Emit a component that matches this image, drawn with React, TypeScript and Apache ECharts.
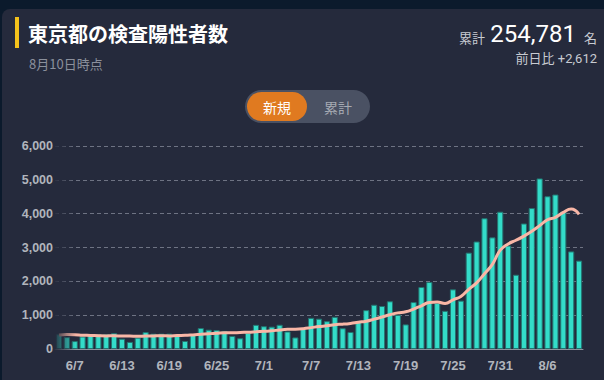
import React, { useEffect, useRef } from "react";
import * as echarts from "echarts";

const dates = [
  "6/5","6/6","6/7","6/8","6/9","6/10","6/11","6/12","6/13","6/14","6/15","6/16","6/17","6/18","6/19","6/20","6/21","6/22","6/23","6/24","6/25","6/26","6/27","6/28","6/29","6/30",
  "7/1","7/2","7/3","7/4","7/5","7/6","7/7","7/8","7/9","7/10","7/11","7/12","7/13","7/14","7/15","7/16","7/17","7/18","7/19","7/20","7/21","7/22","7/23","7/24","7/25","7/26","7/27","7/28","7/29","7/30","7/31",
  "8/1","8/2","8/3","8/4","8/5","8/6","8/7","8/8","8/9","8/10",
];

const newCases = [
  436, 351, 235, 369, 439, 440, 436, 467, 304, 209, 337, 501, 452, 453, 453, 388, 236, 435, 619, 570, 562, 534, 386, 317, 476, 714,
  673, 660, 716, 518, 342, 593, 920, 896, 822, 950, 614, 502, 830, 1149, 1308, 1271, 1410, 1008, 727, 1387, 1832, 1979, 1359, 1128, 1763, 1429, 2848, 3177, 3865, 3300, 4058,
  3058, 2195, 3709, 4166, 5042, 4515, 4566, 4066, 2884, 2612,
];

const avg7 = [
  416, 426, 423, 408, 401, 392, 387, 391, 384, 381, 376, 385, 387, 389, 387, 399, 403, 417, 434, 451, 466, 478, 477, 489, 495, 508,
  523, 537, 563, 582, 586, 602, 632, 664, 687, 720, 734, 757, 791, 823, 882, 946, 1012, 1068, 1100, 1180, 1278, 1373, 1386, 1346, 1454, 1554, 1763, 1955, 2224, 2501, 2920,
  3105, 3214, 3337, 3479, 3647, 3820, 3893, 4037, 4135, 3979,
];

const titleText = "東京都の検査陽性者数";
const asOfText = "8月10日時点";
const totalLabel = "累計";
const totalValue = "254,781";
const totalUnit = "名";
const diffText = "前日比 +2,612";
const toggleLabels = ["新規", "累計"];

const CJK = '"Noto Sans CJK JP", "Noto Sans", sans-serif';
const NUM = 'Roboto, "Noto Sans CJK JP", sans-serif';
const AX = '"Liberation Sans", Arial, sans-serif';
const BG = "#252a3c";

export default function App() {
  const ref = useRef<HTMLDivElement>(null);

  useEffect(() => {
    document.body.style.margin = "0";
    if (!ref.current) return;
    const chart = echarts.init(ref.current, null, { renderer: "svg", width: 604, height: 380 });
    chart.setOption({
      animation: false,
      backgroundColor: "transparent",
      grid: { left: 55, right: 21, top: 146, bottom: 31, containLabel: false },
      xAxis: {
        type: "category",
        data: dates,
        boundaryGap: true,
        axisLine: { show: true, lineStyle: { color: "#8d929c", width: 1 } },
        axisTick: { show: false },
        axisLabel: {
          interval: (i: number) => i >= 2 && (i - 2) % 6 === 0,
          color: "#b1b5bd",
          fontFamily: AX,
          fontWeight: "bold",
          fontSize: 13,
          margin: 10,
        },
        splitLine: { show: false },
      },
      yAxis: {
        type: "value",
        min: 0,
        max: 6000,
        interval: 1000,
        axisLine: { show: false },
        axisTick: { show: false },
        axisLabel: {
          color: "#b1b5bd",
          fontFamily: AX,
          fontWeight: "bold",
          fontSize: 12.5,
          margin: 2,
          formatter: (v: number) => String(v).replace(/\B(?=(\d{3})+(?!\d))/g, ","),
        },
        splitLine: { show: true, lineStyle: { color: "#6e7383", type: [4, 3], width: 1 } },
      },
      series: [
        {
          type: "bar",
          data: newCases,
          barCategoryGap: "22%",
          itemStyle: { color: "#33dcc9", borderColor: "#237470", borderWidth: 1 },
          z: 2,
        },
        {
          type: "line",
          data: avg7,
          smooth: true,
          symbol: "none",
          lineStyle: { color: "#f9b6a6", width: 3 },
          z: 3,
        },
      ],
      graphic: [
        { type: "rect", shape: { x: 54, y: 140, width: 22, height: 212 }, z: 10,
          style: { fill: new echarts.graphic.LinearGradient(0, 0, 1, 0, [
            { offset: 0, color: "rgba(37,42,60,0.95)" },
            { offset: 1, color: "rgba(37,42,60,0)" },
          ]) } },
        { type: "rect", shape: { x: 15, y: 17, width: 4, height: 31 }, style: { fill: "#f4c21b" } },
        { type: "text", style: { text: titleText, x: 28, y: 33, textVerticalAlign: "middle", fill: "#ffffff", font: `bold 20px ${CJK}` } },
        { type: "text", style: { text: asOfText, x: 29, y: 63, textVerticalAlign: "middle", fill: "#8b909c", font: `13px ${CJK}` } },
        { type: "text", style: { text: totalLabel, x: 485, y: 37, textAlign: "right", textVerticalAlign: "middle", fill: "#c8cbd2", font: `13px ${CJK}` } },
        { type: "text", style: { text: totalValue, x: 576, y: 34, textAlign: "right", textVerticalAlign: "middle", fill: "#ffffff", font: `24px ${NUM}` } },
        { type: "text", style: { text: totalUnit, x: 597, y: 37, textAlign: "right", textVerticalAlign: "middle", fill: "#c8cbd2", font: `13px ${CJK}` } },
        { type: "text", style: { text: diffText, x: 597, y: 58, textAlign: "right", textVerticalAlign: "middle", fill: "#c8cbd2", font: `13px ${NUM}` } },
        { type: "rect", shape: { x: 245, y: 90, width: 125, height: 33, r: 16.5 }, style: { fill: "#4a5163" } },
        { type: "rect", shape: { x: 247, y: 92, width: 60, height: 29, r: 14.5 }, style: { fill: "#e07a20" } },
        { type: "text", style: { text: toggleLabels[0], x: 277, y: 106.5, textAlign: "center", textVerticalAlign: "middle", fill: "#ffffff", font: `14px ${CJK}` } },
        { type: "text", style: { text: toggleLabels[1], x: 338, y: 106.5, textAlign: "center", textVerticalAlign: "middle", fill: "#a6aab3", font: `14px ${CJK}` } },
      ],
    });
    return () => chart.dispose();
  }, []);

  return (
    <div style={{ position: "relative", width: 604, height: 380, background: "#0b1a2c", overflow: "hidden" }}>
      <div style={{ position: "absolute", left: 2, top: 9, width: 620, height: 400, background: BG, borderRadius: 8 }} />
      <div ref={ref} style={{ position: "absolute", left: 0, top: 0, width: 604, height: 380 }} />
    </div>
  );
}
